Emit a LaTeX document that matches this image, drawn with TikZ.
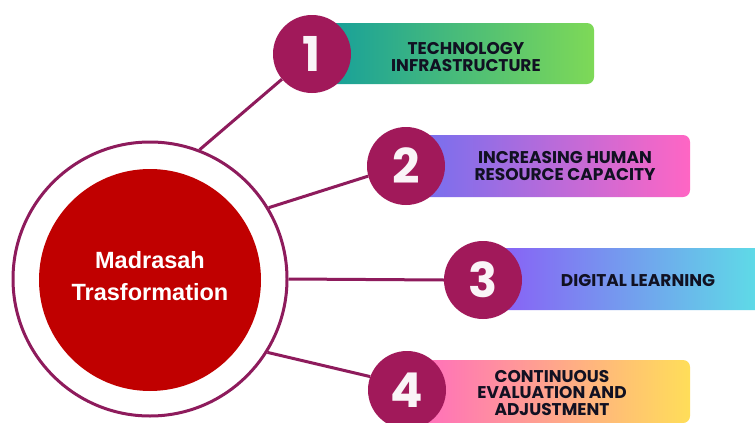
\documentclass[tikz,border=0pt]{standalone}
\usepackage{fontspec}
\setmainfont{Liberation Sans}
\newfontfamily\popp{Poppins}
\definecolor{ringc}{HTML}{8E1B5C}
\definecolor{numc}{HTML}{A1195A}
\definecolor{redc}{HTML}{C00000}
\definecolor{bAl}{HTML}{17A09A}\definecolor{bAr}{HTML}{7ED957}
\definecolor{bBl}{HTML}{6B70F2}\definecolor{bBr}{HTML}{FF66C4}
\definecolor{bCl}{HTML}{8A5CF6}\definecolor{bCr}{HTML}{5CE1E6}
\definecolor{bDl}{HTML}{FF66C4}\definecolor{bDr}{HTML}{FFDE59}
\definecolor{txtc}{HTML}{111122}
\tikzset{
  conn/.style={draw=ringc, line width=3pt},
  numcirc/.style={circle, fill=numc, minimum size=78pt, inner sep=0pt, text=white!95!numc, font=\popp\bfseries\fontsize{48}{48}\selectfont},
  itembox/.style={rounded corners=7pt, inner sep=0pt},
  itemtext/.style={text=txtc, align=center, font=\popp\bfseries\fontsize{17}{16.5}\selectfont},
}
\begin{document}
\begin{tikzpicture}[x=1pt,y=-1pt]
\useasboundingbox (0,0) rectangle (755,423);
\fill[white] (0,0) rectangle (755,423);
% boxes
\node[itembox, left color=bAl, right color=bAr, minimum width=264pt, minimum height=61pt] (b1) at (462,53.5) {};
\node[itembox, left color=bBl, right color=bBr, minimum width=290pt, minimum height=62pt] (b2) at (545,166) {};
\node[itembox, left color=bCl, right color=bCr, minimum width=280pt, minimum height=62pt] (b3) at (630,279) {};
\node[itembox, left color=bDl, right color=bDr, minimum width=290pt, minimum height=63pt] (b4) at (545,391.5) {};
% center
\node[circle, draw=ringc, line width=3pt, minimum size=274pt, inner sep=0pt] (ring) at (150,279) {};
\node[circle, fill=redc, minimum size=222pt, inner sep=0pt] (core) at (150,280) {};
\node[text=white, align=center, font=\bfseries\fontsize{23.5}{32}\selectfont] (title) at (150,276) {Madrasah\\Trasformation};
% number circles
\node[numcirc] (n1) at (312,54) {1};
\node[numcirc] (n2) at (406,166) {2};
\node[numcirc] (n3) at (483,280) {3};
\node[numcirc] (n4) at (407,390) {4};
% connectors
\draw[conn] (ring.69) -- (n1.220);
\draw[conn] (ring.31) -- (n2.195);
\draw[conn] (ring.east) -- (n3.west);
\draw[conn] (ring.-32) -- (n4.160);
% texts
\node[itemtext] (t1) at (466,57) {TECHNOLOGY\\INFRASTRUCTURE};
\node[itemtext] (t2) at (565,166) {INCREASING HUMAN\\RESOURCE CAPACITY};
\node[itemtext] (t3) at (638,281) {DIGITAL LEARNING};
\node[itemtext] (t4) at (552,393) {CONTINUOUS\\EVALUATION AND\\ADJUSTMENT};
\end{tikzpicture}
\end{document}
